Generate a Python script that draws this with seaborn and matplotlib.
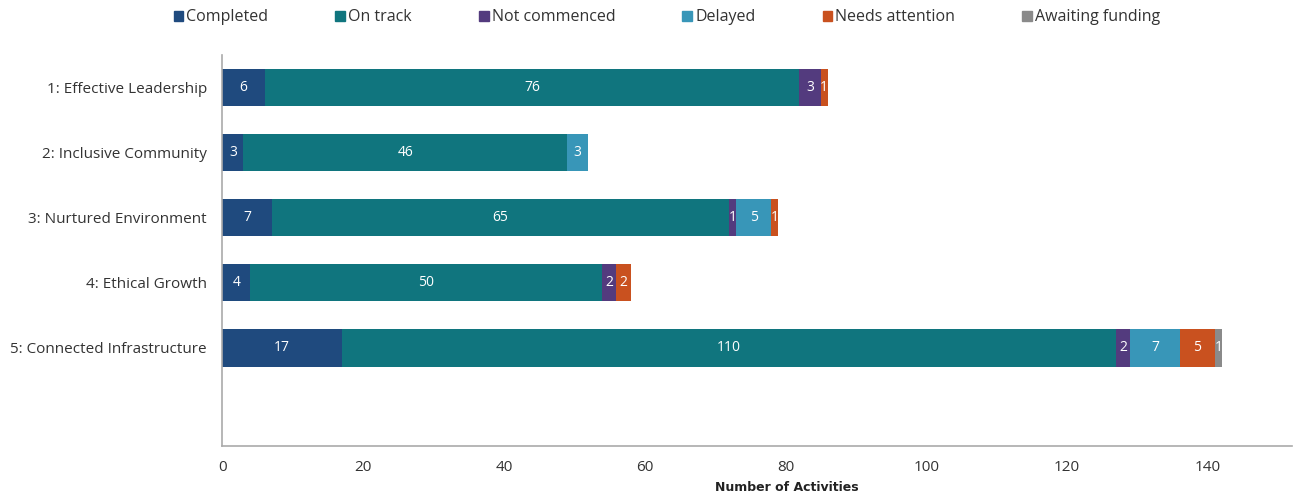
"""stacked bar chart of activity status per strategic pillar"""

import numpy as np
import pandas as pd
import seaborn as sns
import matplotlib.pyplot as plt

pillars = [
    "1: Effective Leadership",
    "2: Inclusive Community",
    "3: Nurtured Environment",
    "4: Ethical Growth",
    "5: Connected Infrastructure",
    " ",
]
statuses = ["Completed", "On track", "Not commenced", "Delayed", "Needs attention", "Awaiting funding"]
completed = [6, 3, 7, 4, 17, 0]
on_track = [76, 46, 65, 50, 110, 0]
not_commenced = [3, 0, 1, 2, 2, 0]
delayed = [0, 3, 5, 0, 7, 0]
needs_attention = [1, 0, 1, 2, 5, 0]
awaiting_funding = [0, 0, 0, 0, 1, 0]
colors = ["#1f4a7e", "#10757e", "#533b7e", "#3896b8", "#c9511f", "#8a8a8a"]

sns.set_theme(style="white")
plt.rcParams["font.family"] = ["Open Sans", "DejaVu Sans"]

df = pd.DataFrame(
    {
        "Pillar": pillars,
        "Completed": completed,
        "On track": on_track,
        "Not commenced": not_commenced,
        "Delayed": delayed,
        "Needs attention": needs_attention,
        "Awaiting funding": awaiting_funding,
    }
)
cum = df[statuses].cumsum(axis=1)

fig, ax = plt.subplots(figsize=(13, 4.98), dpi=100)
fig.subplots_adjust(left=0.171, right=0.994, top=0.89, bottom=0.105)

# draw cumulative totals from the back so each segment shows
for i in range(len(statuses) - 1, -1, -1):
    s = statuses[i]
    sns.barplot(
        x=cum[s], y=df["Pillar"], order=pillars, color=colors[i],
        orient="h", width=0.57, saturation=1, ax=ax, linewidth=0,
    )

# value labels in segment centres
for i, s in enumerate(statuses):
    left = cum[s] - df[s]
    for j, v in enumerate(df[s]):
        if v > 0:
            ax.text(left[j] + v / 2, j, str(v), ha="center", va="center",
                    color="white", fontsize=10)

ax.set_xlim(0, 152)
ax.set_ylim(5.5, -0.5)
ax.set_xticks(np.arange(0, 141, 20))
ax.tick_params(axis="x", labelsize=11, colors="#333333", length=0, pad=10)
ax.tick_params(axis="y", labelsize=11, colors="#333333", length=0, pad=11)
ax.set_ylabel("")
ax.set_xlabel("Number of Activities", fontsize=9, fontweight="bold", color="#222222",
              family=["Liberation Sans Narrow", "DejaVu Sans"])
ax.xaxis.set_label_coords(0.528, -0.09)

sns.despine(ax=ax, top=True, right=True)
for sp in ["left", "bottom"]:
    ax.spines[sp].set_color("#aaaaaa")
    ax.spines[sp].set_linewidth(1.2)

handles = [plt.Rectangle((0, 0), 1, 1, color=c) for c in colors]
fig.legend(handles, statuses, loc="upper center", bbox_to_anchor=(0.513, 1.01), ncol=6,
           frameon=False, fontsize=11.5, handlelength=0.6, handleheight=0.6,
           handletextpad=0.2, columnspacing=4.2, labelcolor="#333333")

plt.savefig("out.png", dpi=100)
plt.close()
